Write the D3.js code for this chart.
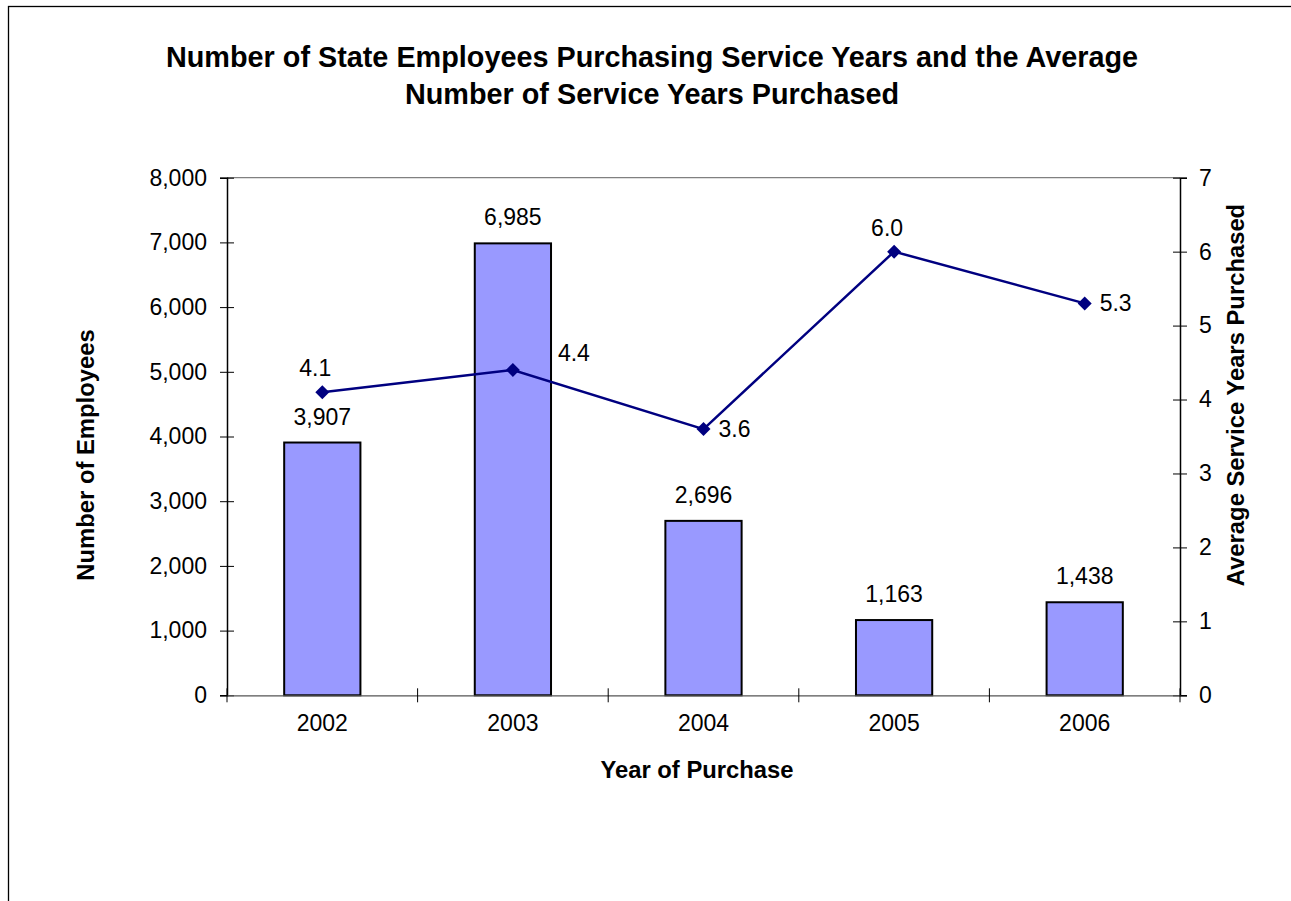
<!DOCTYPE html>
<html>
<head>
<meta charset="utf-8">
<script src="https://cdn.jsdelivr.net/npm/d3@7"></script>
<style>
  html, body { margin: 0; padding: 0; background: #fff; }
  svg { display: block; font-family: "Liberation Sans", Arial, sans-serif; }
</style>
</head>
<body>
<svg id="chart" width="1291" height="901"></svg>
<script>
// Purchase years and the two measured series
const years = ["2002", "2003", "2004", "2005", "2006"];
const employees = [3907, 6985, 2696, 1163, 1438];
const avgYears = [4.1, 4.4, 3.6, 6.0, 5.3];

// Axis tick values
const leftTicks = [0, 1000, 2000, 3000, 4000, 5000, 6000, 7000, 8000];
const rightTicks = [0, 1, 2, 3, 4, 5, 6, 7];

// Where each average-years label sits relative to its marker
const lineLabelSide = ["above", "right-high", "right", "above", "right"];

const titleLines = [
  "Number of State Employees Purchasing Service Years and the Average",
  "Number of Service Years Purchased"
];

const svg = d3.select("#chart");
const W = 1291, H = 901;
const plot = { left: 227, right: 1180, top: 177.7, bottom: 695.3 };

// outer chart frame (runs past the right and bottom edges)
svg.append("rect")
  .attr("x", 8.5).attr("y", 6.5)
  .attr("width", W + 20).attr("height", H + 20)
  .attr("fill", "#fff").attr("stroke", "#000").attr("stroke-width", 1.3);

const x = d3.scaleBand().domain(years).range([plot.left, plot.right]).paddingInner(0).paddingOuter(0);
const yL = d3.scaleLinear().domain([0, 8000]).range([plot.bottom, plot.top]);
const yR = d3.scaleLinear().domain([0, 7]).range([plot.bottom, plot.top]);

// plot-area border: top edge in gray
svg.append("line")
  .attr("x1", plot.left).attr("x2", plot.right)
  .attr("y1", plot.top).attr("y2", plot.top)
  .attr("stroke", "#808080").attr("stroke-width", 1.3);

// Bars
const barW = x.bandwidth() * 0.4;
svg.append("g").selectAll("rect")
  .data(employees)
  .join("rect")
  .attr("x", (d, i) => x(years[i]) + (x.bandwidth() - barW) / 2)
  .attr("y", d => yL(d))
  .attr("width", barW)
  .attr("height", d => yL(0) - yL(d))
  .attr("fill", "#9999FF")
  .attr("stroke", "#000")
  .attr("stroke-width", 2);

// Axes
const tickFont = 23;
const fmtK = d3.format(",");

const gL = svg.append("g").attr("transform", `translate(${plot.left},0)`)
  .call(d3.axisLeft(yL).tickValues(leftTicks).tickFormat(fmtK).tickSize(7).tickPadding(13));
gL.selectAll(".tick line").attr("x2", -7).attr("x1", 7);

const gR = svg.append("g").attr("transform", `translate(${plot.right},0)`)
  .call(d3.axisRight(yR).tickValues(rightTicks).tickFormat(d3.format("d")).tickSize(7).tickPadding(12));
gR.selectAll(".tick line").attr("x1", -7).attr("x2", 7);

const gX = svg.append("g").attr("transform", `translate(0,${plot.bottom})`)
  .call(d3.axisBottom(x).tickSize(0).tickPadding(19));

// category separator ticks on the x axis
svg.append("g").selectAll("line")
  .data(d3.range(years.length + 1))
  .join("line")
  .attr("x1", i => plot.left + i * x.step())
  .attr("x2", i => plot.left + i * x.step())
  .attr("y1", plot.bottom - 7).attr("y2", plot.bottom + 7)
  .attr("stroke", "#000").attr("stroke-width", 1);

[gL, gR, gX].forEach(g => {
  g.selectAll("text").attr("font-size", tickFont).attr("font-family", "Liberation Sans, Arial, sans-serif").attr("fill", "#000");
  g.selectAll(".tick line").attr("stroke", "#000").attr("stroke-width", 1);
  g.select(".domain").attr("stroke", "#000").attr("stroke-width", 1.5);
});
gX.select(".domain").attr("stroke", "#555").attr("stroke-width", 1.3);

// Bar value labels
svg.append("g").selectAll("text")
  .data(employees)
  .join("text")
  .attr("x", (d, i) => x(years[i]) + x.bandwidth() / 2)
  .attr("y", d => yL(d) - 18)
  .attr("text-anchor", "middle")
  .attr("font-size", tickFont)
  .text(d => fmtK(d));

// Average-years line
const cx = i => x(years[i]) + x.bandwidth() / 2;
svg.append("path")
  .datum(avgYears)
  .attr("d", d3.line().x((d, i) => cx(i)).y(d => yR(d)))
  .attr("fill", "none")
  .attr("stroke", "#000080")
  .attr("stroke-width", 2.5);

svg.append("g").selectAll("path")
  .data(avgYears)
  .join("path")
  .attr("transform", (d, i) => `translate(${cx(i)},${yR(d)})`)
  .attr("d", "M0,-7L7,0L0,7L-7,0Z")
  .attr("fill", "#000080");

const labelDx = { "above": -7, "right": 15, "right-high": 45 };
const labelDy = { "above": -16, "right": 8, "right-high": -9 };
svg.append("g").selectAll("text")
  .data(avgYears)
  .join("text")
  .attr("x", (d, i) => cx(i) + labelDx[lineLabelSide[i]])
  .attr("y", (d, i) => yR(d) + labelDy[lineLabelSide[i]])
  .attr("text-anchor", (d, i) => lineLabelSide[i] === "above" ? "middle" : "start")
  .attr("font-size", tickFont)
  .text(d => d3.format(".1f")(d));

// Title
svg.append("g").selectAll("text")
  .data(titleLines)
  .join("text")
  .attr("x", 652)
  .attr("y", (d, i) => 66.5 + i * 37)
  .attr("text-anchor", "middle")
  .attr("font-size", 28.8)
  .attr("font-weight", "bold")
  .text(d => d);

// Axis titles
svg.append("text")
  .attr("transform", "translate(94,455) rotate(-90)")
  .attr("text-anchor", "middle")
  .attr("font-size", 23.8)
  .attr("font-weight", "bold")
  .text("Number of Employees");

svg.append("text")
  .attr("transform", "translate(1244,395) rotate(-90)")
  .attr("text-anchor", "middle")
  .attr("font-size", 23.8)
  .attr("font-weight", "bold")
  .text("Average Service Years Purchased");

svg.append("text")
  .attr("x", 697).attr("y", 778)
  .attr("text-anchor", "middle")
  .attr("font-size", 23.8)
  .attr("font-weight", "bold")
  .text("Year of Purchase");
</script>
</body>
</html>
